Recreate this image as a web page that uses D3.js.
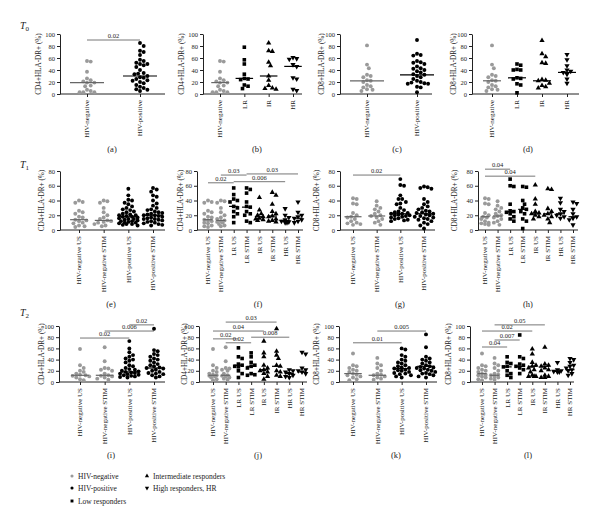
<!DOCTYPE html>
<html><head><meta charset="utf-8">
<script src="https://cdn.jsdelivr.net/npm/d3@7"></script>
<style>
body{margin:0;background:#fff}
svg{display:block}
text{font-family:"Liberation Serif","DejaVu Serif",serif;fill:#222}
</style>
</head><body>
<svg id="c" width="600" height="525"></svg>
<script>
// ---------------- categories ----------------
const catsT0a = ["HIV-negative","HIV-positive"];
const catsT0b = ["HIV-negative","LR","IR","HR"];
const catsA = ["HIV-negative US","HIV-negative STIM","HIV-positive US","HIV-positive STIM"];
const catsB = ["HIV-negative US","HIV-negative STIM","LR US","LR STIM","IR US","IR STIM","HR US","HR STIM"];
const kindsT0a = ["neg","pos"];
const kindsT0b = ["neg","LR","IR","HR"];
const kindsA = ["neg","neg","pos","pos"];
const kindsB = ["neg","neg","LR","LR","IR","IR","HR","HR"];
const ticks100 = [0,20,40,60,80,100];
const ticks80 = [0,20,40,60,80];

// ---------------- T0 values ----------------
const t0_cd4_neg = [55,54,37,26,23,21,19,19,14,13,7,5,3,3,3];
const t0_cd4_pos = [85,80,72,70,65,57,55,52,50,50,48,45,40,35,34,33,30,28,27,25,23,22,20,18,15,12,10,8,7,5];
const t0_cd4_LR = [78,57,50,33,26,25,24,15,13,9];
const t0_cd4_IR = [85,72,71,53,47,30,23,14,10,9,8];
const t0_cd4_HR = [61,59,58,49,46,27,25,8,6];
const t0_cd8_neg = [81,49,43,32,30,28,23,22,20,15,13,11,8,7,5];
const t0_cd8_pos = [90,67,65,64,55,53,52,50,46,43,42,40,38,36,33,32,30,28,25,22,20,19,18,17,17,12,11,3];
const t0_cd8_LR = [50,48,41,40,40,27,26,25,17,15,2];
const t0_cd8_IR = [89,67,62,52,51,24,23,22,18,14,12,10];
const t0_cd8_HR = [66,57,47,40,38,36,33,25,18];
const med_a = [19,30];
const med_b = [19,26,30,46];
const med_c = [22,32];
const med_d = [22,27,22,36];

// ---------------- T1 values ----------------
const t1_cd4_negUS = [40,38,37,26,24,22,18,17,14,13,12,10,9,6,5,4];
const t1_cd4_negST = [40,39,37,30,24,20,17,15,13,12,11,10,8,6,5];
const t1_cd4_posUS = [56,47,41,40,37,35,32,30,28,27,25,24,22,21,20,20,19,18,18,17,16,15,15,14,13,12,12,11,10,10,9,8,8,7,6];
const t1_cd4_posST = [57,55,52,47,45,40,36,33,30,28,27,25,24,23,22,21,20,20,19,18,17,16,15,15,14,13,12,11,10,9,8,7,6];
const t1_cd4_LRUS = [57,48,42,40,38,32,30,25,22,18,10];
const t1_cd4_LRST = [57,55,50,38,32,31,25,22,20,12,10];
const t1_cd4_IRUS = [44,27,22,20,18,16,15,14,13];
const t1_cd4_IRST = [51,47,35,25,22,19,18,15,13,12,11];
const t1_cd4_HRUS = [29,20,17,14,12,11,10,10];
const t1_cd4_HRST = [38,24,20,18,16,14,12,10];
const t1_cd8_negUS = [43,42,36,35,23,20,18,17,15,12,10,9,8,7];
const t1_cd8_negST = [39,33,30,28,25,22,20,19,17,15,12,10,7];
const t1_cd8_posUS = [69,61,60,47,42,42,38,36,35,30,27,25,24,23,22,22,21,20,20,19,18,17,16,15,14,13,12];
const t1_cd8_posST = [59,58,57,56,42,38,35,32,30,28,26,25,24,23,22,21,20,19,18,17,16,15,14,12,10,8,6,2];
const t1_cd8_LRUS = [69,60,59,35,26,25,24,22,18,15,12];
const t1_cd8_LRST = [59,58,40,35,30,28,25,22,15,12,2];
const t1_cd8_IRUS = [61,42,35,25,23,22,20,18,15];
const t1_cd8_IRST = [56,55,29,25,22,20,18,15,10];
const t1_cd8_HRUS = [43,37,28,25,22,20,18,16];
const t1_cd8_HRST = [38,36,28,22,18,16,14,7];
const med_e = [14,13,18,20];
const med_f = [14,13,32,31,18,19,13,16];
const med_g = [18,19,22,22];
const med_h = [18,19,25,28,22,22,22,18];

// ---------------- T2 values ----------------
const t2_cd4_negUS = [59,30,25,20,18,15,13,12,11,10,8,5,3];
const t2_cd4_negST = [62,37,25,24,22,20,15,12,11,10,8,6,4];
const t2_cd4_posUS = [73,60,53,48,45,42,40,38,35,30,28,25,23,22,20,19,18,17,16,15,14,13,12,11,10,9,8];
const t2_cd4_posST = [95,57,55,50,48,45,42,40,38,35,32,30,28,26,25,24,22,20,18,16,15,14,12,10,8];
const t2_cd4_LRUS = [61,45,42,32,30,28,27,20,15,8];
const t2_cd4_LRST = [52,45,35,30,28,25,15,13,12];
const t2_cd4_IRUS = [73,52,45,30,25,22,20,18,15,10,5];
const t2_cd4_IRST = [95,55,48,42,30,28,20,18,12,10];
const t2_cd4_HRUS = [22,20,18,15,12,10,8];
const t2_cd4_HRST = [53,50,25,22,20,18,15];
const t2_cd8_negUS = [51,30,28,25,22,20,18,15,13,12,10,8,5,3];
const t2_cd8_negST = [43,33,30,25,20,15,13,12,10,8,6,4];
const t2_cd8_posUS = [60,58,48,45,40,38,35,33,30,28,26,25,24,22,21,20,18,16,15,14,12,10,8];
const t2_cd8_posST = [85,62,45,42,40,38,35,33,30,28,27,26,25,24,22,21,20,18,16,15,14,12,10,8];
const t2_cd8_LRUS = [45,35,33,28,27,20,15,12,8];
const t2_cd8_LRST = [84,45,42,32,30,28,25,22,15];
const t2_cd8_IRUS = [59,50,35,30,28,25,22,18,12,10,10,10];
const t2_cd8_IRST = [62,32,30,28,25,22,20,12,10,8,8];
const t2_cd8_HRUS = [35,22,20,19,18,18];
const t2_cd8_HRST = [42,40,35,30,28,25,22,20,15,12];
const med_i = [12,12,18,25];
const med_j = [12,12,30,28,22,28,15,18];
const med_k = [15,12,24,28];
const med_l = [15,12,27,28,28,28,19,22];

// ---------------- significance bars: [from, to, level(%), label] ----------------
const sig_a = [[0,1,90,"0.02"]];
const sig_f = [[0,2,64,"0.02"],[2,6,65.5,"0.006"],[1,3,74.5,"0.03"],[3,7,76,"0.03"]];
const sig_g = [[0,2,74.5,"0.02"]];
const sig_h = [[0,2,82.5,"0.04"],[0,4,73,"0.04"]];
const sig_i = [[0,2,78.5,"0.02"],[1,3,91,"0.006"],[2,3,102,"0.02"]];
const sig_j = [[0,2,77,"0.02"],[1,3,70,"0.02"],[3,6,80,"0.008"],[0,4,91,"0.04"],[1,5,107,"0.03"]];
const sig_k = [[0,2,70,"0.01"],[1,3,91,"0.005"]];
const sig_l = [[0,2,62.5,"0.04"],[1,3,75,"0.007"],[0,4,91,"0.02"],[1,5,102,"0.05"]];

const legendLabels = ["HIV-negative","HIV-positive","Low responders","Intermediate responders","High responders, HR"];
const legendKinds = ["neg","pos","LR","IR","HR"];

// ---------------- layout ----------------
const rows = [{yTop:34,yBot:94,max:100,ticks:ticks100,tLab:"0",tY:25,letterY:149},
              {yTop:171,yBot:230,max:80,ticks:ticks80,tLab:"1",tY:164,letterY:304},
              {yTop:326,yBot:382,max:100,ticks:ticks100,tLab:"2",tY:312,letterY:455}];
const CD4 = "CD4+HLA-DR+ (%)", CD8 = "CD8+HLA-DR+ (%)";
const panels = [
 {row:0,x0:60,x1:165,c0:87,c1:140,labX:38,letX:112,L:"(a)",cats:catsT0a,kinds:kindsT0a,vals:[t0_cd4_neg,t0_cd4_pos],med:med_a,sig:sig_a,yl:CD4},
 {row:0,x0:203,x1:302,c0:220,c1:293,labX:181,letX:257,L:"(b)",cats:catsT0b,kinds:kindsT0b,vals:[t0_cd4_neg,t0_cd4_LR,t0_cd4_IR,t0_cd4_HR],med:med_b,sig:[],yl:CD4},
 {row:0,x0:340,x1:432,c0:367,c1:417,labX:321,letX:397,L:"(c)",cats:catsT0a,kinds:kindsT0a,vals:[t0_cd8_neg,t0_cd8_pos],med:med_c,sig:[],yl:CD8},
 {row:0,x0:472,x1:579,c0:492,c1:567,labX:453,letX:528,L:"(d)",cats:catsT0b,kinds:kindsT0b,vals:[t0_cd8_neg,t0_cd8_LR,t0_cd8_IR,t0_cd8_HR],med:med_d,sig:[],yl:CD8},
 {row:1,x0:60,x1:165,c0:79,c1:153,labX:41,letX:111,L:"(e)",cats:catsA,kinds:kindsA,vals:[t1_cd4_negUS,t1_cd4_negST,t1_cd4_posUS,t1_cd4_posST],med:med_e,sig:[],yl:CD4},
 {row:1,x0:197,x1:303,c0:208,c1:298,labX:180,letX:258,L:"(f)",cats:catsB,kinds:kindsB,vals:[t1_cd4_negUS,t1_cd4_negST,t1_cd4_LRUS,t1_cd4_LRST,t1_cd4_IRUS,t1_cd4_IRST,t1_cd4_HRUS,t1_cd4_HRST],med:med_f,sig:sig_f,yl:CD4},
 {row:1,x0:340,x1:435,c0:353,c1:424,labX:316,letX:400,L:"(g)",cats:catsA,kinds:kindsA,vals:[t1_cd8_negUS,t1_cd8_negST,t1_cd8_posUS,t1_cd8_posST],med:med_g,sig:sig_g,yl:CD8},
 {row:1,x0:478,x1:578,c0:485,c1:573,labX:454,letX:528,L:"(h)",cats:catsB,kinds:kindsB,vals:[t1_cd8_negUS,t1_cd8_negST,t1_cd8_LRUS,t1_cd8_LRST,t1_cd8_IRUS,t1_cd8_IRST,t1_cd8_HRUS,t1_cd8_HRST],med:med_h,sig:sig_h,yl:CD8},
 {row:2,x0:59,x1:165,c0:80,c1:154,labX:41,letX:111,L:"(i)",cats:catsA,kinds:kindsA,vals:[t2_cd4_negUS,t2_cd4_negST,t2_cd4_posUS,t2_cd4_posST],med:med_i,sig:sig_i,yl:CD4},
 {row:2,x0:199,x1:307,c0:213,c1:302,labX:184,letX:258,L:"(j)",cats:catsB,kinds:kindsB,vals:[t2_cd4_negUS,t2_cd4_negST,t2_cd4_LRUS,t2_cd4_LRST,t2_cd4_IRUS,t2_cd4_IRST,t2_cd4_HRUS,t2_cd4_HRST],med:med_j,sig:sig_j,yl:CD4},
 {row:2,x0:339,x1:437,c0:353,c1:426,labX:316,letX:396,L:"(k)",cats:catsA,kinds:kindsA,vals:[t2_cd8_negUS,t2_cd8_negST,t2_cd8_posUS,t2_cd8_posST],med:med_k,sig:sig_k,yl:CD8},
 {row:2,x0:470,x1:574,c0:482,c1:570,labX:448,letX:528,L:"(l)",cats:catsB,kinds:kindsB,vals:[t2_cd8_negUS,t2_cd8_negST,t2_cd8_LRUS,t2_cd8_LRST,t2_cd8_IRUS,t2_cd8_IRST,t2_cd8_HRUS,t2_cd8_HRST],med:med_l,sig:sig_l,yl:CD8}
];

const GRAY = "#9a9a9a", INK = "#222";
const svg = d3.select("#c");

function markerPath(kind, k){
  k = k || 1;
  if(kind==="neg"||kind==="pos") return d3.symbol(d3.symbolCircle, 12*k)();
  if(kind==="LR") return d3.symbol(d3.symbolSquare, 13*k)();
  return d3.symbol(d3.symbolTriangle, 12*k)();
}
function drawMarker(g, kind, x, y, k){
  g.append("path").attr("d", markerPath(kind, k))
    .attr("transform", `translate(${x},${y})` + (kind==="HR" ? " rotate(180)" : ""))
    .attr("fill", kind==="neg" ? GRAY : "#000");
}
function swarm(vals, yS, cx, maxOff){
  const R = 3.7;
  const pts = vals.map(v => ({v, y: yS(v)})).sort((a,b) => a.y - b.y);
  const placed = [];
  pts.forEach(p => {
    const cands = [0];
    for(let k=1; k*R/2 <= maxOff + 0.01; k++) cands.push(k*R/2, -k*R/2);
    let bestX = cx, bestScore = -Infinity;
    for(const o of cands){
      let minD = Infinity;
      for(const q of placed){ minD = Math.min(minD, Math.hypot(cx+o-q.x, p.y-q.y)); }
      if(minD >= R){ bestX = cx+o; break; }
      if(minD > bestScore){ bestScore = minD; bestX = cx+o; }
    }
    p.x = bestX; placed.push(p);
  });
  return placed;
}

// row labels T0, T1, T2
rows.forEach(r => {
  const t = svg.append("text").attr("x",20).attr("y",r.tY+4).attr("font-size",10);
  t.append("tspan").attr("font-style","italic").text("T");
  t.append("tspan").attr("font-size",7).attr("dy",2).text(r.tLab);
});

panels.forEach(p => {
  const r = rows[p.row];
  const g = svg.append("g");
  const y = d3.scaleLinear().domain([0, r.max]).range([r.yBot, r.yTop]);
  const x = d3.scalePoint().domain(p.cats).range([p.c0, p.c1]);
  const step = x.step();

  // y axis
  const ya = g.append("g").attr("transform",`translate(${p.x0},0)`)
    .call(d3.axisLeft(y).tickValues(r.ticks).tickSize(3).tickSizeOuter(0).tickPadding(2));
  ya.selectAll("path,line").attr("stroke",INK);
  ya.selectAll("text").attr("font-size",6.5).attr("font-family","Liberation Serif").attr("fill",INK);

  // x axis
  const xa = g.append("g").attr("transform",`translate(0,${r.yBot})`)
    .call(d3.axisBottom(x).tickSize(3).tickFormat(""));
  xa.select(".domain").remove();
  xa.selectAll("line").attr("stroke",INK);
  g.append("line").attr("x1",p.x0).attr("x2",p.x1).attr("y1",r.yBot).attr("y2",r.yBot).attr("stroke",INK);

  // category labels (rotated)
  p.cats.forEach(c => {
    g.append("text").attr("transform",`translate(${x(c)},${r.yBot+6}) rotate(-90)`)
      .attr("text-anchor","end").attr("dy","0.35em").attr("font-size",7).text(c);
  });

  // y label
  g.append("text").attr("transform",`translate(${p.labX},${(r.yTop+r.yBot)/2}) rotate(-90)`)
    .attr("text-anchor","middle").attr("dy","0.35em").attr("font-size",7.2).text(p.yl);

  // panel letter
  g.append("text").attr("x",p.letX).attr("y",r.letterY).attr("text-anchor","middle")
    .attr("dy","0.35em").attr("font-size",8.5).text(p.L);

  // significance bars
  p.sig.forEach(([a,b,h,lab]) => {
    const yy = y(h);
    g.append("line").attr("x1",x(p.cats[a])).attr("x2",x(p.cats[b])).attr("y1",yy).attr("y2",yy)
      .attr("stroke","#777").attr("stroke-width",1);
    g.append("text").attr("x",(x(p.cats[a])+x(p.cats[b]))/2).attr("y",yy-1.8)
      .attr("text-anchor","middle").attr("font-size",6.5).text(lab);
  });

  // points
  const maxOff = Math.min(0.42*step, 13);
  const hw = Math.min(0.36*step, 17);
  p.vals.forEach((vals,i) => {
    const cx = x(p.cats[i]);
    const kind = p.kinds[i];
    swarm(vals, y, cx, maxOff).forEach(pt => drawMarker(g, kind, pt.x, pt.y));
    g.append("line").attr("x1",cx-hw).attr("x2",cx+hw).attr("y1",y(p.med[i])).attr("y2",y(p.med[i]))
      .attr("stroke", kind==="neg" ? "#666" : "#000").attr("stroke-width",1.2);
  });
});

// legend
const legPos = [[72,476],[72,488],[72,501],[147,476],[147,488]];
legendLabels.forEach((lab,i) => {
  const [lx,ly] = legPos[i];
  drawMarker(svg, legendKinds[i], lx, ly, 0.65);
  svg.append("text").attr("x",lx+6).attr("y",ly).attr("dy","0.35em").attr("font-size",7.5).text(lab);
});
</script>
</body></html>
